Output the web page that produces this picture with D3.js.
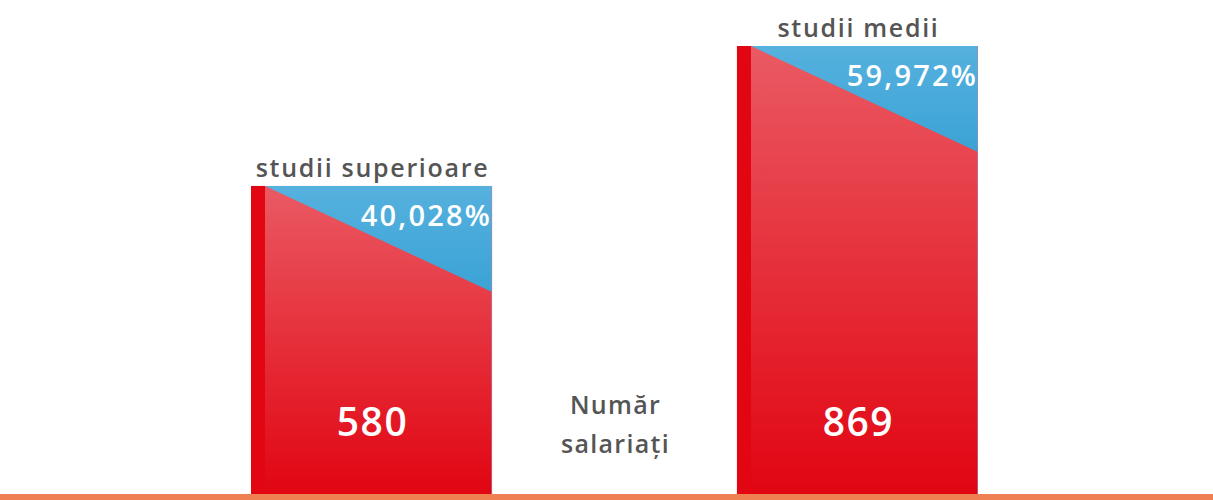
<!DOCTYPE html>
<html>
<head>
<meta charset="utf-8">
<script src="https://cdn.jsdelivr.net/npm/d3@7"></script>
<style>
    body { margin: 0; background: #fff; }
    text { font-family: 'Open Sans', sans-serif; font-weight: 700; }
</style>
</head>
<body>
<script>
const categories = ['studii superioare', 'studii medii']
const counts = [580, 869]
const percents = ['40,028%', '59,972%']
const axisLabel = ['Număr', 'salariați']

const width = 1213
const height = 500
const baseY = 494

const svg = d3.select('body')
    .append('svg')
    .attr('width', width)
    .attr('height', height)

// gradients
const defs = svg.append('defs')
const redGrad = defs.append('linearGradient')
    .attr('id', 'redGrad')
    .attr('x1', 0).attr('y1', 0).attr('x2', 0).attr('y2', 1)
redGrad.append('stop').attr('offset', '0%').attr('stop-color', '#ea5a63')
redGrad.append('stop').attr('offset', '100%').attr('stop-color', '#e10512')

const blueGrad = defs.append('linearGradient')
    .attr('id', 'blueGrad')
    .attr('x1', 0).attr('y1', 0).attr('x2', 0).attr('y2', 1)
blueGrad.append('stop').attr('offset', '0%').attr('stop-color', '#56b1de')
blueGrad.append('stop').attr('offset', '100%').attr('stop-color', '#3aa3d5')

const x = d3.scaleBand()
    .domain(categories)
    .range([251, 978])
    .paddingInner(0.504)
    .paddingOuter(0)

const y = d3.scaleLinear()
    .domain([-56, 869])
    .range([baseY, 46])

const stripW = 14
const drop = 106

const bars = svg.selectAll('.bar')
    .data(categories)
    .enter()
    .append('g')
    .attr('class', 'bar')

bars.append('rect')
    .attr('x', d => x(d))
    .attr('y', (d, i) => y(counts[i]))
    .attr('width', x.bandwidth())
    .attr('height', (d, i) => baseY - y(counts[i]))
    .style('fill', 'url(#redGrad)')

bars.append('rect')
    .attr('x', d => x(d))
    .attr('y', (d, i) => y(counts[i]))
    .attr('width', stripW)
    .attr('height', (d, i) => baseY - y(counts[i]))
    .style('fill', '#e20613')

bars.append('path')
    .attr('d', function (d, i) {
        const x0 = x(d) + stripW
        const x1 = x(d) + x.bandwidth()
        const top = y(counts[i])
        return 'M' + x0 + ',' + top + 'L' + x1 + ',' + top + 'L' + x1 + ',' + (top + drop) + 'Z'
    })
    .style('fill', 'url(#blueGrad)')

// thin edge on the right side of each bar
bars.append('line')
    .attr('x1', d => x(d) + x.bandwidth() - 0.5)
    .attr('x2', d => x(d) + x.bandwidth() - 0.5)
    .attr('y1', (d, i) => y(counts[i]))
    .attr('y2', baseY)
    .style('stroke', '#a889b0')
    .style('stroke-opacity', 0.6)
    .style('stroke-width', 1)

bars.append('text')
    .attr('x', d => x(d) + x.bandwidth() / 2 + 1)
    .attr('y', (d, i) => y(counts[i]) - 9)
    .attr('text-anchor', 'middle')
    .style('font-size', '25px')
    .style('font-weight', 600)
    .style('letter-spacing', '1.7px')
    .style('fill', '#555555')
    .text(d => d)

bars.append('text')
    .attr('x', d => x(d) + x.bandwidth())
    .attr('y', (d, i) => y(counts[i]) + 40)
    .attr('text-anchor', 'end')
    .style('font-size', '29px')
    .style('font-weight', 600)
    .style('letter-spacing', '2.2px')
    .style('fill', '#ffffff')
    .text((d, i) => percents[i])

bars.append('text')
    .attr('x', d => x(d) + x.bandwidth() / 2 + 1)
    .attr('y', 436)
    .attr('text-anchor', 'middle')
    .style('font-size', '39px')
    .style('font-weight', 600)
    .style('letter-spacing', '1.5px')
    .style('fill', '#ffffff')
    .text((d, i) => counts[i])

// axis label between bars
const midX = (x(categories[0]) + x.bandwidth() + x(categories[1])) / 2
svg.append('text')
    .attr('text-anchor', 'middle')
    .style('font-size', '25px')
    .style('font-weight', 600)
    .style('letter-spacing', '1.3px')
    .style('fill', '#555555')
    .selectAll('tspan')
    .data(axisLabel)
    .enter()
    .append('tspan')
    .attr('x', midX + 1)
    .attr('y', (d, i) => 414 + i * 39)
    .text(d => d)

// baseline
svg.append('rect')
    .attr('x', 0)
    .attr('y', baseY)
    .attr('width', width)
    .attr('height', height - baseY)
    .style('fill', '#ef8052')
</script>
</body>
</html>
